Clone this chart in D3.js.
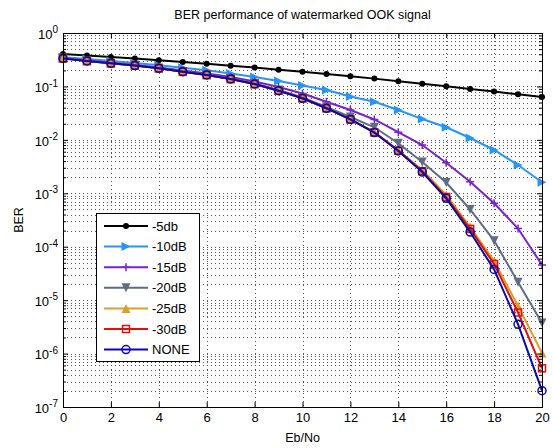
<!DOCTYPE html>
<html>
<head>
<meta charset="utf-8">
<script src="https://cdn.jsdelivr.net/npm/d3@7"></script>
<style>
  body { margin: 0; background: #fff; }
  text { font-family: "Liberation Sans", Arial, sans-serif; fill: #000; }
</style>
</head>
<body>
<svg id="chart" width="553" height="448"></svg>
<script>
// Eb/No values (dB)
var ebno = d3.range(0, 21);

// BER per watermark level
var ber5 = [0.404, 0.379, 0.356, 0.332, 0.308, 0.286, 0.265, 0.244, 0.225, 0.206, 0.188,
            0.171, 0.155, 0.140, 0.125, 0.112, 0.1005, 0.0899, 0.080, 0.0712, 0.0634];
var ber10 = [0.352, 0.326, 0.299, 0.275, 0.249, 0.224, 0.200, 0.175, 0.150, 0.126, 0.104,
             0.0858, 0.0648, 0.0518, 0.0362, 0.0245, 0.0172, 0.01083, 0.00646, 0.00338, 0.00161];
var ber15 = [0.340, 0.306, 0.277, 0.252, 0.226, 0.199, 0.175, 0.150, 0.124, 0.0976, 0.0738,
             0.0518, 0.0362, 0.0241, 0.0139, 0.00801, 0.00374, 0.00165, 6.5e-4, 2.19e-4, 4.55e-5];
var ber20 = [0.340, 0.300, 0.273, 0.248, 0.221, 0.191, 0.166, 0.140, 0.113, 0.0855, 0.0621,
             0.0412, 0.0268, 0.0172, 0.00863, 0.00385, 0.00159, 4.97e-4, 1.30e-4, 2.16e-5, 3.73e-6];
var ber25 = [0.335, 0.299, 0.271, 0.246, 0.218, 0.189, 0.164, 0.138, 0.111, 0.0835, 0.0603,
             0.0393, 0.0244, 0.0140, 0.0064, 0.00273, 9.29e-4, 2.34e-4, 5.4e-5, 7.8e-6, 1.03e-6];
var ber30 = [0.335, 0.299, 0.271, 0.246, 0.218, 0.189, 0.164, 0.138, 0.111, 0.0833, 0.0601,
             0.0391, 0.0242, 0.0138, 0.0063, 0.0026, 8.5e-4, 2.15e-4, 4.75e-5, 5.87e-6, 5.3e-7];
var berNone = [0.333, 0.299, 0.271, 0.246, 0.218, 0.189, 0.164, 0.138, 0.111, 0.0832, 0.0600,
               0.0390, 0.0241, 0.0137, 0.00619, 0.0025, 8.05e-4, 1.88e-4, 3.75e-5, 3.53e-6, 2.02e-7];

var seriesNames = ["-5db", "-10dB", "-15dB", "-20dB", "-25dB", "-30dB", "NONE"];
var seriesValues = [ber5, ber10, ber15, ber20, ber25, ber30, berNone];
var seriesColors = ["#000000", "#2596f5", "#7a22cc", "#5d6d82", "#d9a028", "#e01010", "#0a0aa8"];
var seriesMarkers = ["dot", "right", "plus", "down", "up", "square", "circle"];

var xTicks = d3.range(0, 21, 2);
var yExps = [0, -1, -2, -3, -4, -5, -6, -7];

var svg = d3.select("#chart");
var plotL = 63, plotR = 542, plotT = 33, plotB = 407;

var x = d3.scaleLinear().domain([0, 20]).range([plotL, plotR]);
var y = d3.scaleLog().domain([1e-7, 1]).range([plotB, plotT]);

// minor decade values for grid / ticks
var minorVals = [];
yExps.slice(1).forEach(function (e) {
    for (var m = 2; m <= 9; m++) minorVals.push(m * Math.pow(10, e));
});
var majorVals = yExps.map(function (e) { return Math.pow(10, e); });

// grid
var grid = svg.append("g").attr("stroke", "#555").attr("stroke-width", 1)
    .attr("stroke-dasharray", "1,3").attr("shape-rendering", "crispEdges");
grid.selectAll(".gx").data(xTicks.slice(1, -1)).enter().append("line")
    .attr("x1", function (d) { return Math.round(x(d)) + 0.5; })
    .attr("x2", function (d) { return Math.round(x(d)) + 0.5; })
    .attr("y1", plotT).attr("y2", plotB);
grid.selectAll(".gy").data(minorVals.concat(majorVals.slice(1, -1))).enter().append("line")
    .attr("y1", function (d) { return Math.round(y(d)) + 0.5; })
    .attr("y2", function (d) { return Math.round(y(d)) + 0.5; })
    .attr("x1", plotL).attr("x2", plotR);

// series lines
var line = d3.line()
    .x(function (d, i) { return x(ebno[i]); })
    .y(function (d) { return y(d); });

function drawMarker(g, type, color, cx, cy) {
    if (type === "dot") {
        g.append("circle").attr("cx", cx).attr("cy", cy).attr("r", 3).attr("fill", color);
    } else if (type === "circle") {
        g.append("circle").attr("cx", cx).attr("cy", cy).attr("r", 4)
            .attr("fill", "none").attr("stroke", color).attr("stroke-width", 1.5);
    } else if (type === "square") {
        g.append("rect").attr("x", cx - 3.5).attr("y", cy - 3.5).attr("width", 7).attr("height", 7)
            .attr("fill", "none").attr("stroke", color).attr("stroke-width", 1.5);
    } else if (type === "plus") {
        g.append("path").attr("d", "M" + (cx - 4) + "," + cy + "h8M" + cx + "," + (cy - 4) + "v8")
            .attr("stroke", color).attr("stroke-width", 1.5);
    } else {
        var s = 4.5, p;
        if (type === "right") p = [[cx + s, cy], [cx - s, cy - s], [cx - s, cy + s]];
        if (type === "down") p = [[cx, cy + s], [cx - s, cy - s], [cx + s, cy - s]];
        if (type === "up") p = [[cx, cy - s], [cx - s, cy + s], [cx + s, cy + s]];
        g.append("path").attr("d", "M" + p.join("L") + "Z").attr("fill", color);
    }
}

seriesValues.forEach(function (vals, k) {
    var g = svg.append("g");
    g.append("path").datum(vals).attr("d", line)
        .attr("fill", "none").attr("stroke", seriesColors[k]).attr("stroke-width", 2);
    vals.forEach(function (v, i) {
        drawMarker(g, seriesMarkers[k], seriesColors[k], x(ebno[i]), y(v));
    });
});

// axes box
svg.append("rect").attr("x", plotL + 0.5).attr("y", plotT + 0.5)
    .attr("width", plotR - plotL).attr("height", plotB - plotT)
    .attr("fill", "none").attr("stroke", "#000").attr("stroke-width", 1);

// x axis ticks and labels
var xAxis = svg.append("g").attr("transform", "translate(0," + plotB + ")")
    .call(d3.axisBottom(x).tickValues(xTicks).tickSize(-5).tickPadding(6).tickFormat(d3.format("d")));
xAxis.select(".domain").remove();
xAxis.selectAll("text").attr("font-size", 13).attr("font-family", "Liberation Sans, Arial, sans-serif");
var xTop = svg.append("g").attr("transform", "translate(0," + plotT + ")")
    .call(d3.axisTop(x).tickValues(xTicks).tickSize(-5).tickFormat(""));
xTop.select(".domain").remove();

// y axis major ticks and labels
var yAxis = svg.append("g").attr("transform", "translate(" + plotL + ",0)")
    .call(d3.axisLeft(y).tickValues(majorVals).tickSize(-5).tickPadding(6).tickFormat(""));
yAxis.select(".domain").remove();
yAxis.selectAll(".tick").each(function (d) {
    var t = d3.select(this).append("text").attr("x", -5).attr("dy", "0.4em")
        .attr("text-anchor", "end").attr("font-size", 13);
    t.append("tspan").text("10");
    t.append("tspan").attr("dy", "-0.55em").attr("font-size", 10)
        .text(Math.round(Math.log10(d)));
});
var yMinor = svg.append("g").attr("transform", "translate(" + plotL + ",0)")
    .call(d3.axisLeft(y).tickValues(minorVals).tickSize(-3).tickFormat(""));
yMinor.select(".domain").remove();
var yRight = svg.append("g").attr("transform", "translate(" + plotR + ",0)")
    .call(d3.axisRight(y).tickValues(majorVals).tickSize(-5).tickFormat(""));
yRight.select(".domain").remove();
var yRightMinor = svg.append("g").attr("transform", "translate(" + plotR + ",0)")
    .call(d3.axisRight(y).tickValues(minorVals).tickSize(-3).tickFormat(""));
yRightMinor.select(".domain").remove();

// title and axis labels
svg.append("text").attr("x", (plotL + plotR) / 2).attr("y", 19).attr("text-anchor", "middle")
    .attr("font-size", 12.5).text("BER performance of watermarked OOK signal");
svg.append("text").attr("x", (plotL + plotR) / 2).attr("y", 442).attr("text-anchor", "middle")
    .attr("font-size", 12.5).text("Eb/No");
svg.append("text").attr("transform", "translate(23," + ((plotT + plotB) / 2) + ") rotate(-90)")
    .attr("text-anchor", "middle").attr("font-size", 12.5).text("BER");

// legend
var lg = svg.append("g");
lg.append("rect").attr("x", 96.5).attr("y", 213.5).attr("width", 103).attr("height", 148)
    .attr("fill", "#fff").attr("stroke", "#000").attr("stroke-width", 1);
seriesNames.forEach(function (name, k) {
    var ly = 226 + k * 20.6;
    lg.append("line").attr("x1", 104).attr("x2", 148).attr("y1", ly).attr("y2", ly)
        .attr("stroke", seriesColors[k]).attr("stroke-width", 2);
    drawMarker(lg, seriesMarkers[k], seriesColors[k], 126, ly);
    lg.append("text").attr("x", 152).attr("y", ly).attr("dy", "0.36em")
        .attr("font-size", 13).text(name);
});
</script>
</body>
</html>
